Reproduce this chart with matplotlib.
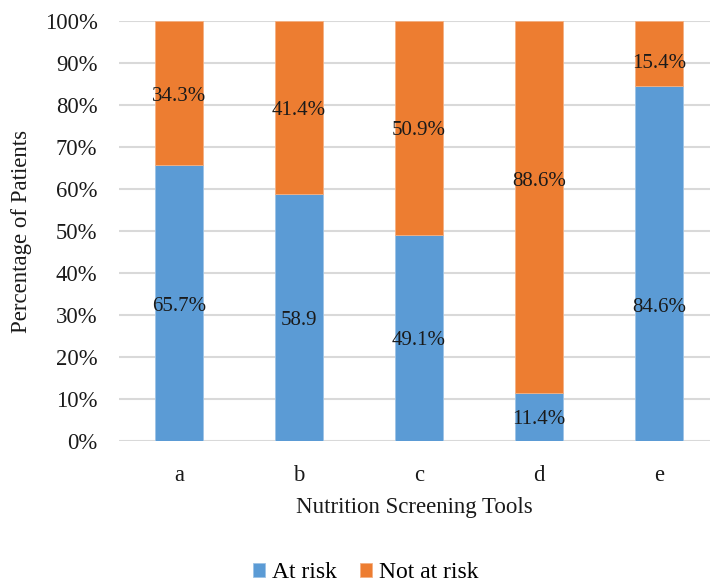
import matplotlib
matplotlib.use("Agg")
import matplotlib.pyplot as plt
from matplotlib.ticker import PercentFormatter

plt.rcParams['font.family'] = ['Liberation Serif', 'DejaVu Serif']

tools = ['a', 'b', 'c', 'd', 'e']
at_risk = [65.7, 58.9, 49.1, 11.4, 84.6]
not_at_risk = [34.3, 41.1, 50.9, 88.6, 15.4]
at_risk_labels = ['65.7%', '58.9', '49.1%', '11.4%', '84.6%']
not_at_risk_labels = ['34.3%', '41.4%', '50.9%', '88.6%', '15.4%']
# label placement (percentage axis units) as seen in the reference
at_risk_label_y = [32.1, 28.8, 24.0, 5.0, 31.9]
not_at_risk_label_y = [82.1, 78.8, 74.0, 61.9, 90.0]

blue = '#5B9BD5'
orange = '#ED7D31'

fig = plt.figure(figsize=(7.10, 5.83), dpi=100)
ax = fig.add_axes([119/710, 1-441/583, 1-119/710, 420/583])

x = list(range(len(tools)))
ax.bar(x, at_risk, width=0.4, color=blue, edgecolor='#9DC3E6', linewidth=0.6, label='At risk', zorder=3)
ax.bar(x, not_at_risk, width=0.4, bottom=at_risk, color=orange, edgecolor='#F4B183', linewidth=0.6, label='Not at risk', zorder=3)

for xi, lab, yy in zip(x, at_risk_labels, at_risk_label_y):
    ax.text(xi, yy, lab, ha='center', va='center', fontsize=15, color='#1a1a1a', zorder=4)
for xi, lab, yy in zip(x, not_at_risk_labels, not_at_risk_label_y):
    ax.text(xi, yy, lab, ha='center', va='center', fontsize=15, color='#1a1a1a', zorder=4)

ax.set_xlim(-0.5, 4.425)
ax.set_ylim(0, 100)
ax.set_yticks(range(0, 101, 10))
ax.yaxis.set_major_formatter(PercentFormatter(decimals=0))
ax.set_xticks(x)
ax.set_xticklabels(tools)
ax.tick_params(axis='both', length=0, labelsize=16.3, colors='#1a1a1a')
ax.tick_params(axis='x', pad=17)
ax.tick_params(axis='y', pad=15.5)
ax.grid(axis='y', color='#D9D9D9', linewidth=1.5, zorder=0)
ax.set_axisbelow(True)
for s in ax.spines.values():
    s.set_visible(False)

ax.set_xlabel('Nutrition Screening Tools', fontsize=16.5, color='#1a1a1a', labelpad=8)
ax.set_ylabel('Percentage of Patients', fontsize=16.5, color='#1a1a1a', labelpad=9)

fig.legend(loc='center', bbox_to_anchor=(366/710, 1-573/583), ncol=2, frameon=False,
           fontsize=17, handlelength=0.5, handleheight=0.5, handletextpad=0.3, columnspacing=1.0)

fig.savefig('out.png', dpi=100)
